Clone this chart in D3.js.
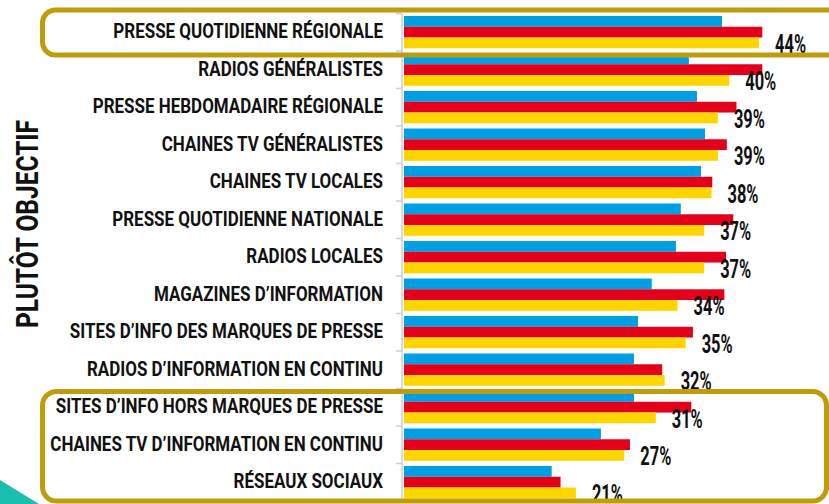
<!DOCTYPE html>
<html>
<head>
<meta charset="utf-8">
<script src="https://cdn.jsdelivr.net/npm/d3@7"></script>
<style>
  html, body { margin: 0; padding: 0; background: #fff; }
  svg { display: block; }
  text { font-family: Roboto, "Liberation Sans", sans-serif; font-weight: bold; fill: #111; }
</style>
</head>
<body>
<div id="chart"></div>
<script>
//Size of the picture.
let w = 829
let h = 504

//Media categories, top to bottom.
let categories = [
  "PRESSE QUOTIDIENNE RÉGIONALE",
  "RADIOS GÉNÉRALISTES",
  "PRESSE HEBDOMADAIRE RÉGIONALE",
  "CHAINES TV GÉNÉRALISTES",
  "CHAINES TV LOCALES",
  "PRESSE QUOTIDIENNE NATIONALE",
  "RADIOS LOCALES",
  "MAGAZINES D’INFORMATION",
  "SITES D’INFO DES MARQUES DE PRESSE",
  "RADIOS D’INFORMATION EN CONTINU",
  "SITES D’INFO HORS MARQUES DE PRESSE",
  "CHAINES TV D’INFORMATION EN CONTINU",
  "RÉSEAUX SOCIAUX"
]

//Three series (in %).
let blueVals = [39.4, 35.3, 36.3, 37.3, 36.8, 34.3, 33.7, 30.7, 29.0, 28.5, 28.5, 24.4, 18.3]
let redVals = [44.4, 44.4, 41.2, 40.0, 38.2, 40.8, 39.9, 39.7, 35.8, 32.0, 35.6, 28.0, 19.4]
let yellowVals = [44.0, 40.3, 38.9, 38.9, 38.1, 37.2, 37.2, 33.9, 34.9, 32.3, 31.2, 27.3, 21.3]

//Labels printed next to the yellow bars.
let valueLabels = ["44%", "40%", "39%", "39%", "38%", "37%", "37%", "34%", "35%", "32%", "31%", "27%", "21%"]

//Series names and colors.
let seriesKeys = ["blue", "red", "yellow"]
let seriesColors = { blue: "#009fe3", red: "#e2001a", yellow: "#ffd500" }

//Which rows are framed by the gold boxes.
let boxedTop = ["PRESSE QUOTIDIENNE RÉGIONALE"]
let boxedBottom = ["SITES D’INFO HORS MARQUES DE PRESSE", "CHAINES TV D’INFORMATION EN CONTINU", "RÉSEAUX SOCIAUX"]

let gold = "#be9c0a"

const svg = d3.select("#chart")
              .append("svg")
              .attr("width", w)
              .attr("height", h)

//Measures a text at a given size, used to squeeze fonts into a condensed look.
function textWidth(str, size) {
  let t = svg.append("text").attr("font-size", size).text(str)
  let len = t.node().getComputedTextLength()
  t.remove()
  return len
}
let catSize = 19.5
let pctSize = 26
let catScale = 270 / textWidth(categories[0], catSize)
let pctScale = 31 / textWidth("40%", pctSize)

//Scales.
let x = d3.scaleLinear()
          .domain([0, 50])
          .range([404, 807.5])

let y = d3.scaleBand()
          .domain(categories)
          .range([13.5, 501])

let ySub = d3.scaleBand()
             .domain(seriesKeys)
             .range([2.5, 34.8])

//Rows of data built from the arrays.
let rows = categories.map((c, i) => ({
  cat: c,
  blue: blueVals[i],
  red: redVals[i],
  yellow: yellowVals[i],
  label: valueLabels[i]
}))

//Teal corner triangle.
svg.append("path")
   .attr("d", "M0,480 L0," + h + " L39," + h + " Z")
   .attr("fill", "#1bbfae")

//Bars.
let groups = svg.selectAll("g.row")
                .data(rows)
                .enter()
                .append("g")
                .attr("class", "row")
                .attr("transform", d => "translate(0," + y(d.cat) + ")")

groups.selectAll("rect")
      .data(d => seriesKeys.map(k => ({ key: k, value: d[k] })))
      .enter()
      .append("rect")
      .attr("x", x(0))
      .attr("y", d => ySub(d.key))
      .attr("width", d => x(d.value) - x(0))
      .attr("height", ySub.bandwidth())
      .attr("fill", d => seriesColors[d.key])

//Percent labels after the yellow bars.
groups.append("text")
      .attr("transform", d => "translate(" + (x(d.yellow) + 16) + "," + (ySub("yellow") + ySub.bandwidth() + 4.5) + ") scale(" + pctScale + ",1)")
      .attr("font-size", pctSize)
      .text(d => d.label)

//Category axis, labels only.
let yAxis = d3.axisLeft(y)
              .tickSize(0)
              .tickPadding(0)

svg.append("g")
   .attr("transform", "translate(383,0)")
   .call(yAxis)
   .call(g => g.select(".domain").remove())
   .selectAll("text")
   .attr("x", 0)
   .attr("transform", "scale(" + catScale + ",1)")
   .attr("font-size", catSize)
   .attr("font-family", null)
   .attr("fill", "#111")

//Gray bracket between rows.
let edges = categories.map(c => y(c)).concat([y.range()[1]])
svg.append("line")
   .attr("x1", 402).attr("x2", 402)
   .attr("y1", y.range()[0]).attr("y2", y.range()[1])
   .attr("stroke", "#cfcfcf")
   .attr("stroke-width", 1.5)
svg.selectAll("line.edge")
   .data(edges)
   .enter()
   .append("line")
   .attr("class", "edge")
   .attr("x1", 396).attr("x2", 402)
   .attr("y1", d => d).attr("y2", d => d)
   .attr("stroke", "#cfcfcf")
   .attr("stroke-width", 1.5)

//Vertical side title.
svg.append("text")
   .attr("transform", "translate(37.5,224) rotate(-90)")
   .attr("text-anchor", "middle")
   .attr("font-size", 32)
   .attr("textLength", 208)
   .attr("lengthAdjust", "spacingAndGlyphs")
   .text("PLUTÔT OBJECTIF")

//Gold frames drawn on top.
let topY0 = y(boxedTop[0]) - 3.5
let topY1 = y(boxedTop[boxedTop.length - 1]) + y.bandwidth() + 4
svg.append("rect")
   .attr("x", 42.5)
   .attr("y", topY0)
   .attr("width", 830)
   .attr("height", topY1 - topY0)
   .attr("rx", 13)
   .attr("fill", "none")
   .attr("stroke", gold)
   .attr("stroke-width", 5)

let botY0 = y(boxedBottom[0]) + 3
let botY1 = y(boxedBottom[boxedBottom.length - 1]) + y.bandwidth()
svg.append("rect")
   .attr("x", 42.5)
   .attr("y", botY0)
   .attr("width", 826.5 - 42.5)
   .attr("height", botY1 - botY0)
   .attr("rx", 14)
   .attr("fill", "none")
   .attr("stroke", gold)
   .attr("stroke-width", 5)
</script>
</body>
</html>
